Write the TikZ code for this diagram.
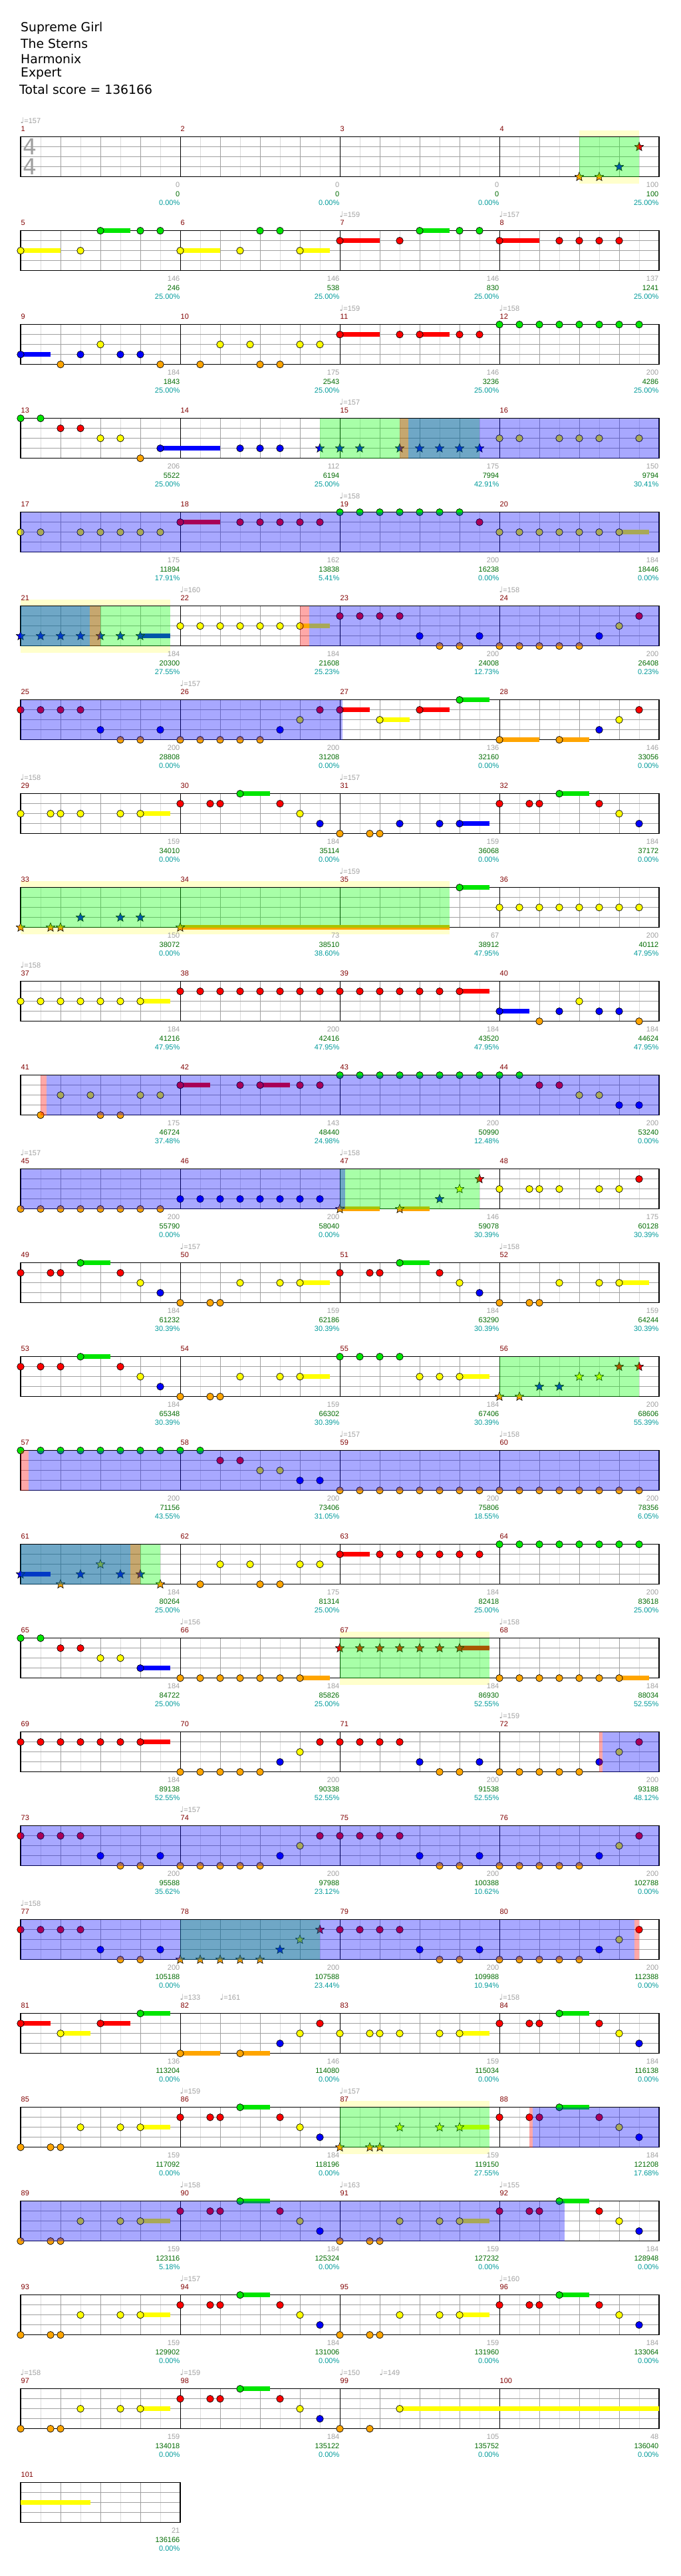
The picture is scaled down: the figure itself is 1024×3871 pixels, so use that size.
\documentclass[tikz,border=0pt]{standalone}
\usepackage{fontspec}
\setmainfont{DejaVu Sans}
\newfontfamily\lblfont{Liberation Sans}
\newfontfamily\symfont{DejaVu Sans}
\usetikzlibrary{shapes.geometric}

\definecolor{lane0}{HTML}{00E600}
\definecolor{lane1}{HTML}{FF0000}
\definecolor{lane2}{HTML}{FFFF00}
\definecolor{lane3}{HTML}{0000FF}
\definecolor{lane4}{HTML}{FFA500}
\definecolor{mnumred}{HTML}{800000}
\definecolor{scoregray}{HTML}{A0A0A0}
\definecolor{scoregreen}{HTML}{006A00}
\definecolor{scoreteal}{HTML}{009A9A}
\definecolor{paleyellow}{HTML}{FFFFCC}
\definecolor{gridlt}{HTML}{DCDCDC}
\definecolor{gridmd}{HTML}{A0A0A0}

\tikzset{
  gem/.style={circle,draw=black,line width=0.7pt,minimum size=10.5pt,inner sep=0pt},
  spgem/.style={star,star points=5,star point ratio=2.3,draw=black,line width=0.6pt,minimum size=14pt,inner sep=0pt},
  gridlight/.style={gridlt,line width=1pt},
  gridbeat/.style={gridmd,line width=1pt},
  laneline/.style={gridmd,line width=1pt},
  barline/.style={black,line width=1pt},
  staffbox/.style={black,line width=1.3pt},
  mnum/.style={anchor=west,inner sep=0pt,text=mnumred,font={\lblfont\fontsize{11}{11}\selectfont}},
  tmark/.style={anchor=west,inner sep=0pt,text=scoregray,font={\lblfont\fontsize{11}{11}\selectfont}},
  sgray/.style={anchor=east,inner sep=0pt,text=scoregray,font={\lblfont\fontsize{11}{11}\selectfont}},
  sgreen/.style={anchor=east,inner sep=0pt,text=scoregreen,font={\lblfont\fontsize{11}{11}\selectfont}},
  spct/.style={anchor=east,inner sep=0pt,text=scoreteal,font={\lblfont\fontsize{11}{11}\selectfont}},
  titletext/.style={anchor=west,inner sep=0pt,font={\fontsize{18.8}{22}\selectfont}},
  timesig/.style={inner sep=0pt,text=gridmd,font={\fontsize{33}{33}\selectfont}},
}

% origin of a measure: \mx, \my
\newcommand{\mpos}[1]{%
  \pgfmathtruncatemacro{\mrow}{(#1-1)/4}%
  \pgfmathtruncatemacro{\mcol}{#1-1-4*\mrow}%
  \pgfmathsetmacro{\mx}{31+240*\mcol}%
  \pgfmathsetmacro{\my}{205.7+141*\mrow}%
}
% one staff row: row, number of measures
\newcommand{\staff}[2]{%
  \pgfmathsetmacro{\sy}{205.7+141*#1}%
  \pgfmathsetmacro{\sx}{31+240*#2}%
  \foreach \j in {1,...,#2}{\foreach \b in {1,3,5,7}{\draw[gridlight] (31+240*\j-240+30*\b,\sy) -- ++(0,60);}}
  \foreach \k in {1,2,3}{\draw[laneline] (31,\sy+15*\k) -- (\sx,\sy+15*\k);}
  \foreach \j in {1,...,#2}{\foreach \b in {2,4,6}{\draw[gridbeat] (31+240*\j-240+30*\b,\sy) -- ++(0,60);}}
  \ifnum#2>1 \foreach \j in {2,...,#2}{\draw[barline] (31+240*\j-240,\sy) -- ++(0,60);}\fi
  \draw[staffbox] (31,\sy) rectangle (\sx,\sy+60);
}
\newcommand{\gems}[2]{\mpos{#1}\foreach \t/\l in {#2}{\node[gem,fill=lane\l] (g#1-\t-\l) at (\mx+15*\t,\my+15*\l) {};}}
\newcommand{\spgems}[2]{\mpos{#1}\foreach \t/\l in {#2}{\node[spgem,fill=lane\l] (s#1-\t-\l) at (\mx+15*\t,\my+15*\l) {};}}
\newcommand{\tails}[2]{\mpos{#1}\foreach \t/\l/\n in {#2}{\fill[lane\l] (\mx+15*\t,\my+15*\l-3.5) rectangle ++(15*\n,7);}}
% overdrive areas: row, from, to (in 16ths), colour
\newcommand{\odarea}[4]{\fill[#4,opacity=0.34] (31+15*#2,205.7+141*#1) rectangle (31+15*#3,265.7+141*#1);}
\newcommand{\bandyellow}[3]{%
  \fill[paleyellow] (31+15*#2,195.7+141*#1) rectangle (31+15*#3,205.7+141*#1);
  \fill[paleyellow] (31+15*#2,265.7+141*#1) rectangle (31+15*#3,275.7+141*#1);}
\newcommand{\tempo}[3]{\mpos{#1}\node[tmark] (t#1-#2) at (\mx+15*#2-0.5,\my-24.7) {{\symfont\fontsize{12}{12}\selectfont ♩}=#3};}

\begin{document}
\begin{tikzpicture}[x=1pt,y=-1pt]
\useasboundingbox (0,0) rectangle (1024,3871);

% header
\node[titletext] (song) at (31,42) {Supreme Girl};
\node[titletext] (band) at (31,65) {The Sterns};
\node[titletext] (charter) at (31,88) {Harmonix};
\node[titletext] (level) at (31,111) {Expert};
\node[titletext] (total) at (29,134) {Total score = 136166};

% pale bands
\bandyellow{0}{56}{62}
\bandyellow{5}{0}{15}
\bandyellow{8}{0}{43}
\bandyellow{16}{32}{47}
\bandyellow{21}{32}{47}

% staves
\foreach \r in {0,...,24}{\staff{\r}{4}}
\staff{25}{1}
\node[timesig] (sigtop) at (44.5,220.7) {4};
\node[timesig] (sigbot) at (44.5,250.7) {4};

% sustains
\tails{5}{0/2/4,8/0/3}
\tails{6}{0/2/4,12/2/3}
\tails{7}{0/1/4,8/0/3}
\tails{8}{0/1/4}
\tails{9}{0/3/3}
\tails{11}{0/1/4,8/1/3}
\tails{13}{14/3/6}
\tails{18}{0/1/4}
\tails{20}{12/2/3}
\tails{21}{12/3/3}
\tails{22}{12/2/3}
\tails{27}{0/1/3,4/2/3,8/1/3,12/0/3}
\tails{28}{0/4/4,6/4/3}
\tails{29}{12/2/3}
\tails{30}{6/0/3}
\tails{31}{12/3/3}
\tails{32}{6/0/3}
\tails{34}{0/4/27}
\tails{35}{12/0/3}
\tails{37}{12/2/3}
\tails{39}{12/1/3}
\tails{40}{0/3/3}
\tails{42}{0/1/3,8/1/3}
\tails{47}{0/4/4,6/4/3}
\tails{49}{6/0/3}
\tails{50}{12/2/3}
\tails{51}{6/0/3}
\tails{52}{12/2/3}
\tails{53}{6/0/3}
\tails{54}{12/2/3}
\tails{55}{12/2/3}
\tails{61}{0/3/3}
\tails{63}{0/1/3}
\tails{65}{12/3/3}
\tails{66}{12/4/3}
\tails{67}{12/1/3}
\tails{68}{12/4/3}
\tails{69}{12/1/3}
\tails{81}{0/1/3,4/2/3,8/1/3,12/0/3}
\tails{82}{0/4/4,6/4/3}
\tails{83}{12/2/3}
\foreach \m in {84,86,88,90,92,94,96,98}{\tails{\m}{6/0/3}}
\foreach \m in {85,87,89,91,93,95,97}{\tails{\m}{12/2/3}}
\tails{99}{6/2/26}
\tails{101}{0/2/7}

% notes
\gems{5}{0/2,6/2,8/0,12/0,14/0}
\gems{6}{0/2,6/2,8/0,10/0,12/2}
\gems{7}{0/1,6/1,8/0,12/0,14/0}
\gems{8}{0/1,6/1,8/1,10/1,12/1}
\gems{9}{0/3,4/4,6/3,8/2,10/3,12/3,14/4}
\gems{10}{2/4,4/2,7/2,8/4,10/4,12/2,14/2}
\gems{11}{0/1,6/1,8/1,12/1,14/1}
\gems{12}{0/0,2/0,4/0,6/0,8/0,10/0,12/0,14/0}
\gems{13}{0/0,2/0,4/1,6/1,8/2,10/2,12/4,14/3}
\gems{14}{6/3,8/3,10/3}
\gems{16}{0/2,2/2,6/2,8/2,10/2,14/2}
\gems{17}{0/2,2/2,6/2,8/2,10/2,12/2,14/2}
\gems{18}{0/1,6/1,8/1,10/1,12/1,14/1}
\gems{19}{0/0,2/0,4/0,6/0,8/0,10/0,12/0,14/1}
\gems{20}{0/2,2/2,4/2,6/2,8/2,10/2,12/2}
\gems{22}{0/2,2/2,4/2,6/2,8/2,10/2,12/2}
\foreach \m in {23,25,71,73,75,77,79}{\gems{\m}{0/1,2/1,4/1,6/1,8/3,10/4,12/4,14/3}}
\foreach \m in {24,26,70,72,74,76,80}{\gems{\m}{0/4,2/4,4/4,6/4,8/4,10/3,12/2,14/1}}
\gems{27}{0/1,4/2,8/1,12/0}
\gems{28}{0/4,6/4,10/3,12/2,14/1}
\gems{29}{0/2,3/2,4/2,6/2,10/2,12/2}
\gems{30}{0/1,3/1,4/1,6/0,10/1,12/2,14/3}
\gems{31}{0/4,3/4,4/4,6/3,10/3,12/3}
\gems{32}{0/1,3/1,4/1,6/0,10/1,12/2,14/3}
\gems{35}{12/0}
\gems{36}{0/2,2/2,4/2,6/2,8/2,10/2,12/2,14/2}
\gems{37}{0/2,2/2,4/2,6/2,8/2,10/2,12/2}
\gems{38}{0/1,2/1,4/1,6/1,8/1,10/1,12/1,14/1}
\gems{39}{0/1,2/1,4/1,6/1,8/1,10/1,12/1}
\gems{40}{0/3,4/4,6/3,8/2,10/3,12/3,14/4}
\gems{41}{2/4,4/2,7/2,8/4,10/4,12/2,14/2}
\gems{42}{0/1,6/1,8/1,12/1,14/1}
\gems{43}{0/0,2/0,4/0,6/0,8/0,10/0,12/0,14/0}
\gems{44}{0/0,2/0,4/1,6/1,8/2,10/2,12/3,14/3}
\gems{45}{0/4,2/4,4/4,6/4,8/4,10/4,12/4,14/4}
\gems{46}{0/3,2/3,4/3,6/3,8/3,10/3,12/3,14/3}
\gems{48}{0/2,3/2,4/2,6/2,10/2,12/2,14/1}
\gems{49}{0/1,3/1,4/1,6/0,10/1,12/2,14/3}
\gems{50}{0/4,3/4,4/4,6/2,10/2,12/2}
\gems{51}{0/1,3/1,4/1,6/0,10/1,12/2,14/3}
\gems{52}{0/4,3/4,4/4,6/2,10/2,12/2}
\gems{53}{0/1,2/1,4/1,6/0,10/1,12/2,14/3}
\gems{54}{0/4,3/4,4/4,6/2,10/2,12/2}
\gems{55}{0/0,2/0,4/0,6/0,8/2,10/2,12/2}
\gems{57}{0/0,2/0,4/0,6/0,8/0,10/0,12/0,14/0}
\gems{58}{0/0,2/0,4/1,6/1,8/2,10/2,12/3,14/3}
\gems{59}{0/4,2/4,4/4,6/4,8/4,10/4,12/4,14/4}
\gems{60}{0/4,2/4,4/4,6/4,8/4,10/4,12/4,14/4}
\gems{62}{2/4,4/2,7/2,8/4,10/4,12/2,14/2}
\gems{63}{0/1,4/1,6/1,8/1,10/1,12/1,14/1}
\gems{64}{0/0,2/0,4/0,6/0,8/0,10/0,12/0,14/0}
\gems{65}{0/0,2/0,4/1,6/1,8/2,10/2,12/3}
\gems{66}{0/4,2/4,4/4,6/4,8/4,10/4,12/4}
\gems{68}{0/4,2/4,4/4,6/4,8/4,10/4,12/4}
\gems{69}{0/1,2/1,4/1,6/1,8/1,10/1,12/1}
\gems{81}{0/1,4/2,8/1,12/0}
\gems{82}{0/4,6/4,10/3,12/2,14/1}
\gems{83}{0/2,3/2,4/2,6/2,10/2,12/2}
\foreach \m in {84,86,88,90,92,94,96,98}{\gems{\m}{0/1,3/1,4/1,6/0,10/1,12/2,14/3}}
\foreach \m in {85,89,91,93,95,97}{\gems{\m}{0/4,3/4,4/4,6/2,10/2,12/2}}
\gems{99}{0/4,3/4,6/2}

% star notes
\spgems{4}{8/4,10/4,12/3,14/1}
\spgems{14}{14/3}
\spgems{15}{0/3,2/3,6/3,8/3,10/3,12/3,14/3}
\spgems{21}{0/3,2/3,4/3,6/3,8/3,10/3,12/3}
\spgems{33}{0/4,3/4,4/4,6/3,10/3,12/3}
\spgems{34}{0/4}
\spgems{47}{0/4,6/4,10/3,12/2,14/1}
\spgems{56}{0/4,2/4,4/3,6/3,8/2,10/2,12/1,14/1}
\spgems{61}{0/3,4/4,6/3,8/2,10/3,12/3,14/4}
\spgems{67}{0/1,2/1,4/1,6/1,8/1,10/1,12/1}
\spgems{78}{0/4,2/4,4/4,6/4,8/4,10/3,12/2,14/1}
\spgems{87}{0/4,3/4,4/4,6/2,10/2,12/2}

% star power and overdrive
\odarea{0}{56}{62}{green}
\odarea{3}{30}{46}{green}
\odarea{3}{38}{38.85}{red}
\odarea{3}{38.85}{64}{blue}
\odarea{4}{0}{64}{blue}
\odarea{5}{0}{15}{green}
\odarea{5}{0}{6.92}{blue}
\odarea{5}{6.92}{8}{red}
\odarea{5}{28}{28.94}{red}
\odarea{5}{28.94}{64}{blue}
\odarea{6}{0}{32.24}{blue}
\odarea{8}{0}{43}{green}
\odarea{10}{2}{2.57}{red}
\odarea{10}{2.57}{64}{blue}
\odarea{11}{32}{46}{green}
\odarea{11}{0}{32.5}{blue}
\odarea{13}{48}{62}{green}
\odarea{14}{0}{0.78}{red}
\odarea{14}{0.78}{64}{blue}
\odarea{15}{0}{14}{green}
\odarea{15}{0}{10.97}{blue}
\odarea{15}{10.97}{11.97}{red}
\odarea{16}{32}{47}{green}
\odarea{17}{58}{58.3}{red}
\odarea{17}{58.3}{64}{blue}
\odarea{18}{0}{64}{blue}
\odarea{19}{16}{30}{green}
\odarea{19}{0}{61.55}{blue}
\odarea{19}{61.55}{62}{red}
\odarea{21}{32}{47}{green}
\odarea{21}{51}{51.3}{red}
\odarea{21}{51.3}{64}{blue}
\odarea{22}{0}{54.5}{blue}

% measure numbers
\foreach \m in {1,...,101}{\mpos{\m}\node[mnum] (m\m) at (\mx+0.5,\my-11.7) {\m};}

% tempo marks
\foreach \m/\t/\b in {1/0/157,7/0/159,8/0/157,11/0/159,12/0/158,15/0/157,19/0/158,22/0/160,
  24/0/158,26/0/157,29/0/158,31/0/157,35/0/159,37/0/158,45/0/157,47/0/158,50/0/157,52/0/158,
  59/0/157,60/0/158,66/0/156,68/0/158,72/0/159,74/0/157,77/0/158,82/0/133,82/4/161,84/0/158,
  86/0/159,87/0/157,90/0/158,91/0/163,92/0/155,94/0/157,96/0/160,97/0/158,98/0/159,99/0/150,99/4/149}
  {\tempo{\m}{\t}{\b}}

% scores under each measure
\foreach \m/\g/\s/\p in {1/0/0/0.00,2/0/0/0.00,3/0/0/0.00,4/100/100/25.00,
  5/146/246/25.00,6/146/538/25.00,7/146/830/25.00,8/137/1241/25.00,
  9/184/1843/25.00,10/175/2543/25.00,11/146/3236/25.00,12/200/4286/25.00,
  13/206/5522/25.00,14/112/6194/25.00,15/175/7994/42.91,16/150/9794/30.41,
  17/175/11894/17.91,18/162/13838/5.41,19/200/16238/0.00,20/184/18446/0.00,
  21/184/20300/27.55,22/184/21608/25.23,23/200/24008/12.73,24/200/26408/0.23,
  25/200/28808/0.00,26/200/31208/0.00,27/136/32160/0.00,28/146/33056/0.00,
  29/159/34010/0.00,30/184/35114/0.00,31/159/36068/0.00,32/184/37172/0.00,
  33/150/38072/0.00,34/73/38510/38.60,35/67/38912/47.95,36/200/40112/47.95,
  37/184/41216/47.95,38/200/42416/47.95,39/184/43520/47.95,40/184/44624/47.95,
  41/175/46724/37.48,42/143/48440/24.98,43/200/50990/12.48,44/200/53240/0.00,
  45/200/55790/0.00,46/200/58040/0.00,47/146/59078/30.39,48/175/60128/30.39,
  49/184/61232/30.39,50/159/62186/30.39,51/184/63290/30.39,52/159/64244/30.39,
  53/184/65348/30.39,54/159/66302/30.39,55/184/67406/30.39,56/200/68606/55.39,
  57/200/71156/43.55,58/200/73406/31.05,59/200/75806/18.55,60/200/78356/6.05,
  61/184/80264/25.00,62/175/81314/25.00,63/184/82418/25.00,64/200/83618/25.00,
  65/184/84722/25.00,66/184/85826/25.00,67/184/86930/52.55,68/184/88034/52.55,
  69/184/89138/52.55,70/200/90338/52.55,71/200/91538/52.55,72/200/93188/48.12,
  73/200/95588/35.62,74/200/97988/23.12,75/200/100388/10.62,76/200/102788/0.00,
  77/200/105188/0.00,78/200/107588/23.44,79/200/109988/10.94,80/200/112388/0.00,
  81/136/113204/0.00,82/146/114080/0.00,83/159/115034/0.00,84/184/116138/0.00,
  85/159/117092/0.00,86/184/118196/0.00,87/159/119150/27.55,88/184/121208/17.68,
  89/159/123116/5.18,90/184/125324/0.00,91/159/127232/0.00,92/184/128948/0.00,
  93/159/129902/0.00,94/184/131006/0.00,95/159/131960/0.00,96/184/133064/0.00,
  97/159/134018/0.00,98/184/135122/0.00,99/105/135752/0.00,100/48/136040/0.00,
  101/21/136166/0.00}
{\mpos{\m}
 \node[sgray] (a\m) at (\mx+239.5,\my+72.3) {\g};
 \node[sgreen] (b\m) at (\mx+239.5,\my+85.6) {\s};
 \node[spct] (c\m) at (\mx+239.5,\my+98.6) {\p\%};}

\end{tikzpicture}
\end{document}
